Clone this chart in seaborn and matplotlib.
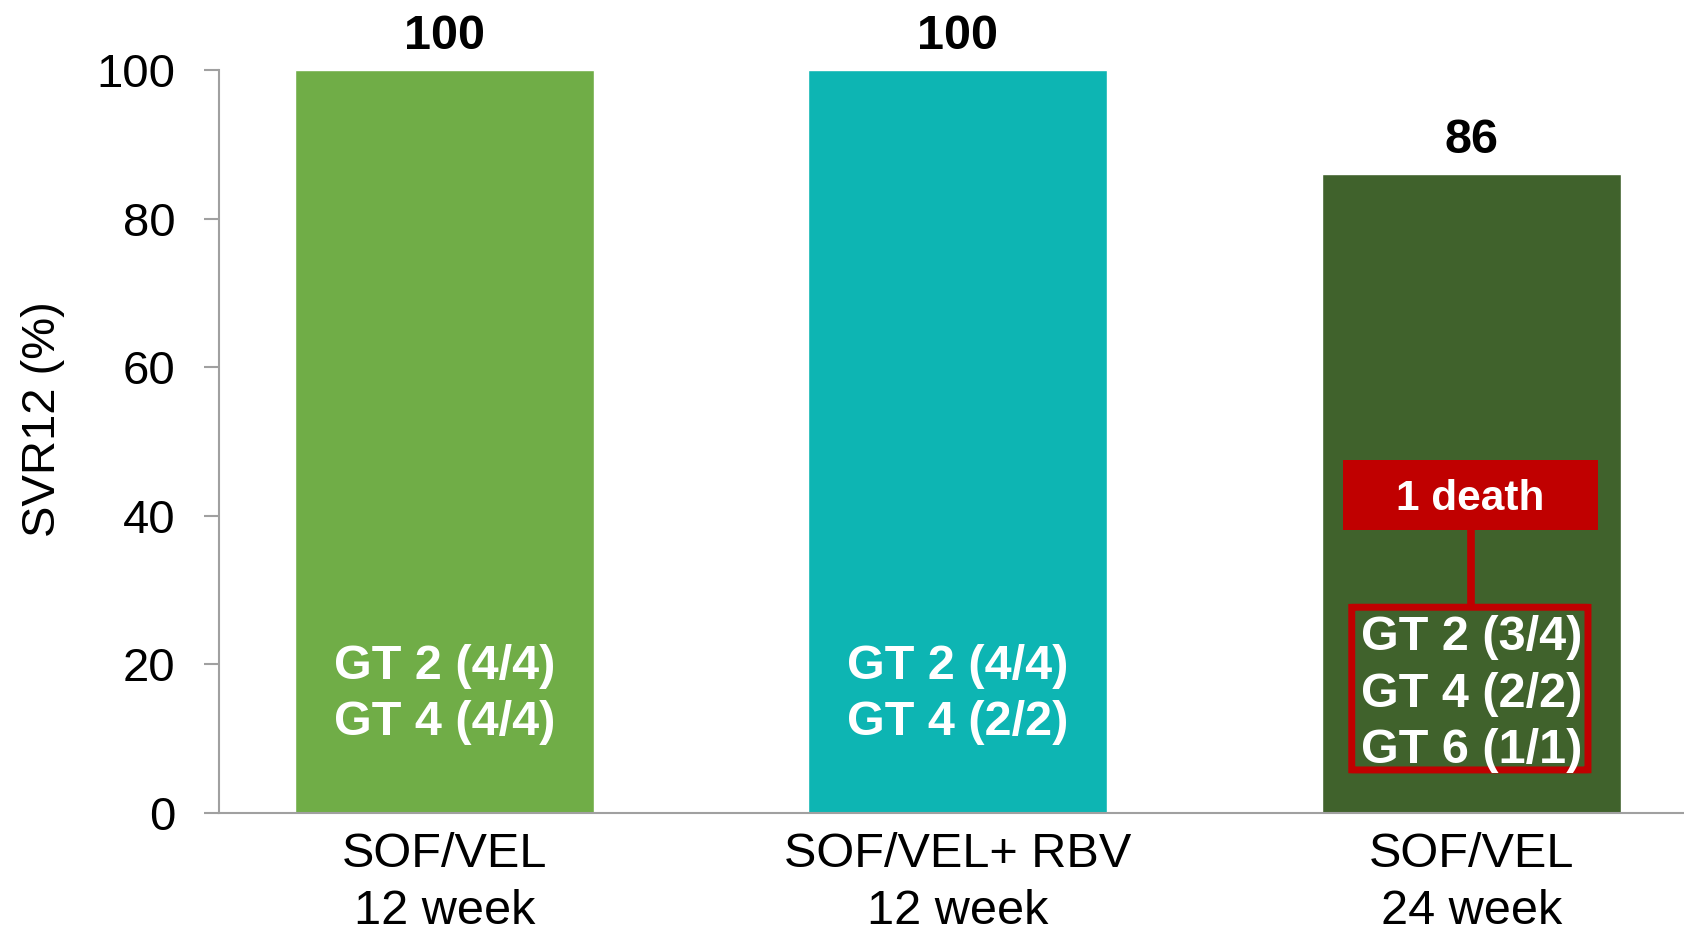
import pandas as pd
import matplotlib.pyplot as plt
import seaborn as sns
from matplotlib.patches import Rectangle, FancyBboxPatch

# data
regimens = ["SOF/VEL\n12 week", "SOF/VEL+ RBV\n12 week", "SOF/VEL\n24 week"]
svr12 = [100, 100, 86]
bar_colors = ["#70AD47", "#0DB5B3", "#40622C"]
genotype_lines = [
    ["GT 2 (4/4)", "GT 4 (4/4)"],
    ["GT 2 (4/4)", "GT 4 (2/2)"],
    ["GT 2 (3/4)", "GT 4 (2/2)", "GT 6 (1/1)"],
]
death_note = "1 death"

data = pd.DataFrame({"Regimen": regimens, "SVR12": svr12})

sns.set_style("white")
plt.rcParams["font.family"] = ["Liberation Sans", "DejaVu Sans"]
plt.rcParams["text.color"] = "black"
plt.rcParams["axes.labelcolor"] = "black"
plt.rcParams["xtick.labelcolor"] = "black"
plt.rcParams["ytick.labelcolor"] = "black"

fig = plt.figure(figsize=(16.84, 9.31), dpi=100)
ax = fig.add_axes([0.1303, 0.1267, 0.8697, 0.7981])

sns.barplot(data=data, x="Regimen", y="SVR12", hue="Regimen",
            palette=bar_colors, legend=False, width=0.582, saturation=1, ax=ax)

ax.set_ylim(0, 100)
ax.set_xlim(-0.438, 2.414)
ax.set_yticks([0, 20, 40, 60, 80, 100])

grey = "#A0A0A0"
sns.despine(ax=ax)
for side in ["left", "bottom"]:
    ax.spines[side].set_color(grey)
    ax.spines[side].set_linewidth(1.5)
ax.tick_params(axis="y", left=True, length=10.8, width=1.5, color=grey,
               pad=21, labelsize=34)
ax.tick_params(axis="x", length=0, pad=14, labelsize=35)
for lbl in ax.get_xticklabels():
    lbl.set_linespacing(1.34)
ax.set_xlabel("")
ax.set_ylabel("SVR12 (%)", fontsize=34)
ax.yaxis.set_label_coords(-0.1205, 0.53)
ax.yaxis.label.set_va("center")

# values above bars
for cont in ax.containers:
    ax.bar_label(cont, fmt="%d", padding=8, fontsize=35, fontweight="bold")

# genotype text inside bars
line_step = 7.63
first_baseline = [18.1, 18.1, 21.94]
for i, lines in enumerate(genotype_lines):
    for k, s in enumerate(lines):
        ax.text(i, first_baseline[i] - k * line_step, s, ha="center",
                va="baseline", color="white", fontsize=35, fontweight="bold",
                zorder=6)

# red callout on the 24 week bar
red = "#C00000"
xc = 2
ax.add_patch(FancyBboxPatch((xc - 0.233, 5.8), 0.46, 21.9,
                            boxstyle="round,pad=0,rounding_size=0.01",
                            fill=False, edgecolor=red, linewidth=5, zorder=5))
ax.add_patch(Rectangle((xc - 0.25, 38.1), 0.496, 9.4, facecolor=red,
                       edgecolor="none", zorder=5))
ax.plot([xc, xc], [27.7, 38.1], color=red, linewidth=5.5, zorder=4,
        solid_capstyle="butt")
ax.text(xc - 0.002, 42.2, death_note, ha="center", va="center", color="white",
        fontsize=30.5, fontweight="bold", zorder=6)

fig.savefig("out.png", dpi=100)
